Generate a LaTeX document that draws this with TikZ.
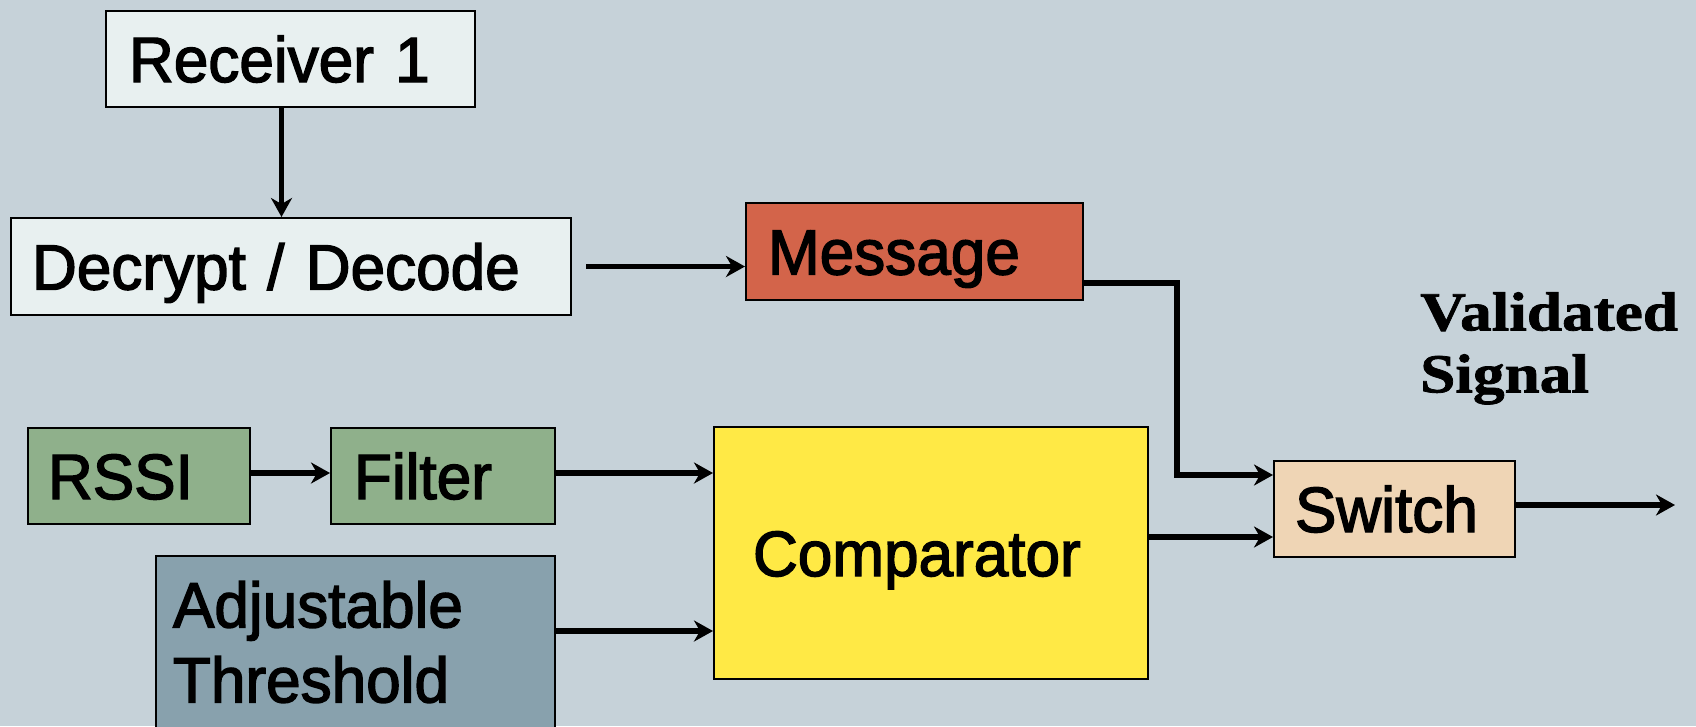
\documentclass[tikz,border=0pt]{standalone}
\usepackage{fontspec}
\setmainfont{Liberation Sans}
\newfontfamily\blockfont[FakeBold=2.2, FakeStretch=0.97, WordSpace=0.8]{Liberation Sans}
\newfontfamily\labelserif[FakeStretch=1.15, FakeBold=1.4]{Liberation Serif}
\usetikzlibrary{arrows.meta}

\definecolor{bgc}{RGB}{198,210,217}
\definecolor{paleC}{RGB}{232,240,240}
\definecolor{msgC}{RGB}{211,100,74}
\definecolor{greenC}{RGB}{143,176,139}
\definecolor{thrC}{RGB}{136,161,173}
\definecolor{compC}{RGB}{255,233,69}
\definecolor{swC}{RGB}{239,213,181}

\begin{document}
\begin{tikzpicture}[x=1pt, y=-1pt,
  box/.style={draw=black, line width=2pt, rectangle, anchor=west,
    inner ysep=0pt, align=left, font=\fontsize{64}{75}\blockfont},
  oneline/.style={text height=46pt, text depth=0pt},
  arr/.style={line width=5.5pt, -{Stealth[length=19pt, width=21pt, inset=6pt]}}]

\fill[bgc] (0,0) rectangle (1696,726);
\useasboundingbox (0,0) rectangle (1696,726);

% blocks
\node[box, oneline, fill=paleC, minimum height=96pt, inner xsep=23pt, text width=323pt] (rec) at (105,59) {Receiver 1};
\node[box, oneline, fill=paleC, minimum height=97pt, inner xsep=21pt, text width=518pt] (dec) at (10,266.5) {Decrypt / Decode};
\node[box, oneline, fill=msgC, minimum height=97pt, inner xsep=22pt, text width=293pt] (msg) at (745,251.5) {Message};
\node[box, oneline, fill=greenC, minimum height=96pt, inner xsep=20pt, text width=182pt] (rssi) at (27,476) {RSSI};
\node[box, oneline, fill=greenC, minimum height=96pt, inner xsep=23pt, text width=178pt] (filt) at (330,476) {Filter};
\node[box, fill=thrC, minimum height=172pt, inner xsep=17pt, text width=365pt] (thr) at (155,642) {Adjustable\\Threshold};
\node[box, oneline, fill=compC, minimum height=252pt, inner xsep=39pt, text width=356pt] (comp) at (713,553) {Comparator};
\node[box, oneline, fill=swC, minimum height=96pt, inner xsep=21pt, text width=199pt] (sw) at (1273,509) {Switch};

\node[anchor=north west, inner sep=0pt, align=left,
  font=\fontsize{55}{62}\labelserif\bfseries] (vs) at (1420,292) {Validated\\Signal};

% helper points
\coordinate (bend) at (1177,283);
\coordinate (swtop) at ([yshift=34pt]sw.west);
\coordinate (out) at (1675,505);

% connectors
\draw[arr] ([xshift=-9pt]rec.south) -- ([xshift=-9pt]rec.south |- dec.north);
\draw[arr] ([xshift=14pt]dec.east) -- (dec.east -| msg.west);
\draw[arr] (msg.east |- bend) -- (bend) -- (bend |- swtop) -- (swtop);
\draw[arr] ([yshift=3pt]rssi.east) -- ([yshift=3pt]filt.west);
\draw[arr] ([yshift=3pt]filt.east) -- ([yshift=3pt]filt.east -| comp.west);
\draw[arr] ([yshift=11pt]thr.east) -- ([yshift=11pt]thr.east -| comp.west);
\draw[arr] ([yshift=16pt]comp.east) -- ([yshift=16pt]comp.east -| sw.west);
\draw[arr] (sw.east |- out) -- (out);
\end{tikzpicture}
\end{document}
